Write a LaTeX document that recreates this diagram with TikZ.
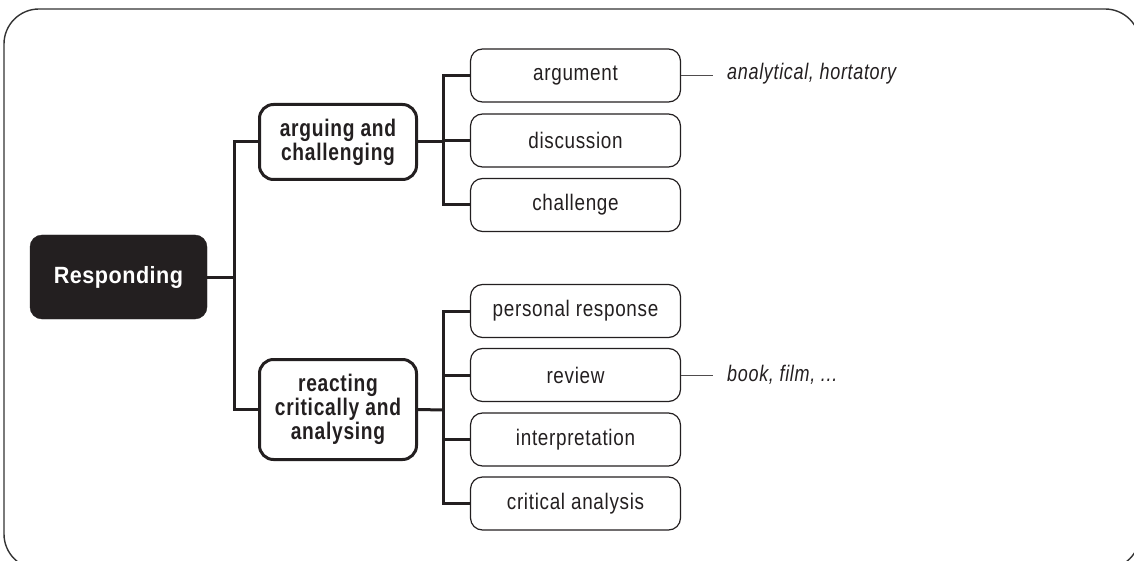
\documentclass[tikz,border=0pt]{standalone}
\usepackage{fontspec}
\setmainfont{Liberation Sans}
\newfontfamily\leaffont{Liberation Sans}[FakeStretch=0.84, LetterSpace=3]
\newfontfamily\notefont{Liberation Sans}[FakeStretch=0.80, LetterSpace=3]
\newfontfamily\midfont{Liberation Sans}[FakeStretch=0.80, LetterSpace=3]
\newfontfamily\rootfont{Liberation Sans}[FakeStretch=0.92, LetterSpace=2]
\definecolor{ink}{HTML}{231F20}
\definecolor{framec}{HTML}{333333}
\tikzset{
  rootbox/.style={fill=ink, draw=ink, rounded corners=12pt, minimum width=177pt, minimum height=84pt,
    text=white, font=\rootfont\fontsize{23.5}{26}\selectfont\bfseries, inner sep=0pt},
  midbox/.style={draw=ink, line width=3pt, rounded corners=14pt, minimum width=157pt, minimum height=75pt,
    text=ink, align=center, font=\midfont\fontsize{24}{24}\selectfont\bfseries, inner sep=0pt},
  leafbox/.style={draw=ink, line width=1.2pt, rounded corners=12pt, minimum width=210pt, minimum height=53pt,
    text=ink, font=\leaffont\fontsize{22.5}{26}\selectfont, inner sep=0pt},
  note/.style={anchor=west, inner sep=0pt, text=ink, font=\notefont\fontsize{22.5}{26}\selectfont\itshape},
  conn/.style={draw=ink, line width=3pt, line join=miter},
  noteline/.style={draw=ink!80, line width=0.9pt},
}
\begin{document}
\begin{tikzpicture}[x=1pt, y=-1pt]
\useasboundingbox (0,0) rectangle (1134,561);
\begin{scope}
\clip (0,0) rectangle (1134,561);
\draw[framec, line width=1.4pt, rounded corners=35pt] (4,9) rectangle (1140,569);
\end{scope}

\node[rootbox] (resp) at (118.5,277) {Responding};
\node[midbox] (arg) at (338,142) {arguing and\\challenging};
\node[midbox, minimum height=100pt] (react) at (338,409.5) {reacting\\critically and\\analysing};

\node[leafbox] (argument) at (575.5,75.5) {argument};
\node[leafbox] (discussion) at (575.5,140.5) {discussion};
\node[leafbox] (challenge) at (575.5,205) {challenge};
\node[leafbox] (personal) at (575.5,311) {personal response};
\node[leafbox] (review) at (575.5,375) {review};
\node[leafbox] (interp) at (575.5,439.5) {interpretation};
\node[leafbox] (critical) at (575.5,503.5) {critical analysis};

\node[note] (n1) at (727,74) {analytical, hortatory};
\node[note] (n2) at (727,375) {book, film, ...};

\coordinate (t0) at (234,277);
\coordinate (t1) at (443,142);
\coordinate (t2) at (443,410);

\draw[conn] (resp.east) -- (t0);
\draw[conn] (t0) |- (arg.west);
\draw[conn] (t0) |- (react.west);

\draw[conn] (arg.east) -- (t1);
\draw[conn] (t1) |- (argument.west);
\draw[conn] (t1) |- (discussion.west);
\draw[conn] (t1) |- (challenge.west);

\draw[conn] (react.east) -- (t2);
\draw[conn] (t2) |- (personal.west);
\draw[conn] (t2) |- (review.west);
\draw[conn] (t2) |- (interp.west);
\draw[conn] (t2) |- (critical.west);

\draw[noteline] (argument.east) -- ([xshift=-14pt]n1.west |- argument.east);
\draw[noteline] (review.east) -- ([xshift=-14pt]n2.west |- review.east);
\end{tikzpicture}
\end{document}
